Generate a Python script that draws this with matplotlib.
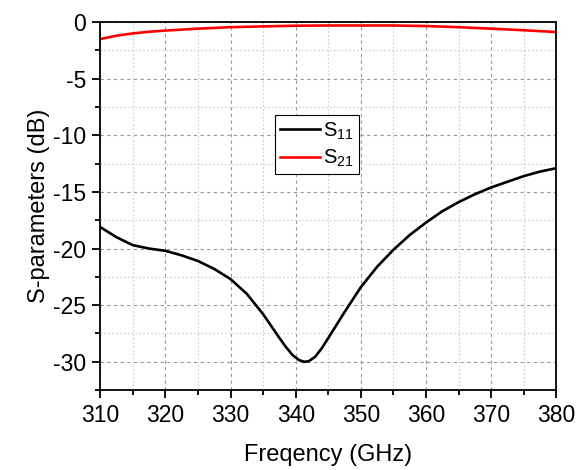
import matplotlib.pyplot as plt
from matplotlib.ticker import MultipleLocator

plt.rcParams['font.family'] = ['Liberation Sans', 'DejaVu Sans']
plt.rcParams['axes.unicode_minus'] = False
plt.rcParams['mathtext.fontset'] = 'custom'
plt.rcParams['mathtext.rm'] = 'Liberation Sans'

# frequency points (GHz)
freq_s11 = [310, 312.5, 315, 317.5, 320, 322.5, 325, 327.5, 330, 332.5, 335,
            337.5, 338.5, 339.5, 340.5, 341.3, 342, 343, 344, 345, 347.5,
            350, 352.5, 355, 357.5, 360, 362.5, 365, 367.5, 370, 372.5, 375,
            377.5, 380]
s11 = [-18.1, -19.0, -19.7, -20.0, -20.2, -20.6, -21.1, -21.8, -22.7, -24.0,
       -25.8, -27.9, -28.7, -29.4, -29.85, -30.0, -29.95, -29.55, -28.8,
       -27.9, -25.6, -23.4, -21.6, -20.1, -18.8, -17.7, -16.7, -15.9, -15.2,
       -14.6, -14.1, -13.6, -13.2, -12.9]

freq_s21 = [310, 312.5, 315, 317.5, 320, 325, 330, 335, 340, 345, 350, 355,
            360, 365, 370, 375, 380]
s21 = [-1.5, -1.2, -1.0, -0.85, -0.75, -0.58, -0.45, -0.38, -0.32, -0.3,
       -0.3, -0.3, -0.35, -0.45, -0.58, -0.72, -0.88]

fig = plt.figure(figsize=(5.76, 4.7), dpi=100)
ax = fig.add_axes([0.174, 0.170, 0.792, 0.783])

ax.plot(freq_s11, s11, color='black', linewidth=1.9, label='S$_{11}$')
ax.plot(freq_s21, s21, color='red', linewidth=1.9, label='S$_{21}$')

ax.set_xlim(310, 380)
ax.set_ylim(-32.5, 0)
ax.xaxis.set_major_locator(MultipleLocator(10))
ax.xaxis.set_minor_locator(MultipleLocator(5))
ax.yaxis.set_major_locator(MultipleLocator(5))
ax.yaxis.set_minor_locator(MultipleLocator(2.5))

# grid: dashed on major ticks, dotted on minor
ax.grid(which='major', color='#999999', linestyle=(0, (3, 3)), linewidth=0.8)
ax.grid(which='minor', color='#cccccc', linestyle=(0, (1.5, 2)), linewidth=0.8)
ax.set_axisbelow(True)

ax.tick_params(which='major', direction='out', length=6, width=1.3,
               labelsize=16.5, pad=4)
ax.tick_params(which='minor', direction='out', length=3.5, width=1.3)
for s in ax.spines.values():
    s.set_linewidth(1.3)

ax.set_xlabel('Freqency (GHz)', fontsize=17, labelpad=12)
ax.set_ylabel('S-parameters (dB)', fontsize=17, labelpad=2)

leg = ax.legend(loc='upper left', bbox_to_anchor=(0.383, 0.747),
                borderaxespad=0, fontsize=14.5, fancybox=False,
                edgecolor='black', framealpha=1, handlelength=2.0,
                handletextpad=0.15, borderpad=0.25, labelspacing=0.3)
leg.get_frame().set_linewidth(0.8)

fig.savefig('out.png', dpi=100)
